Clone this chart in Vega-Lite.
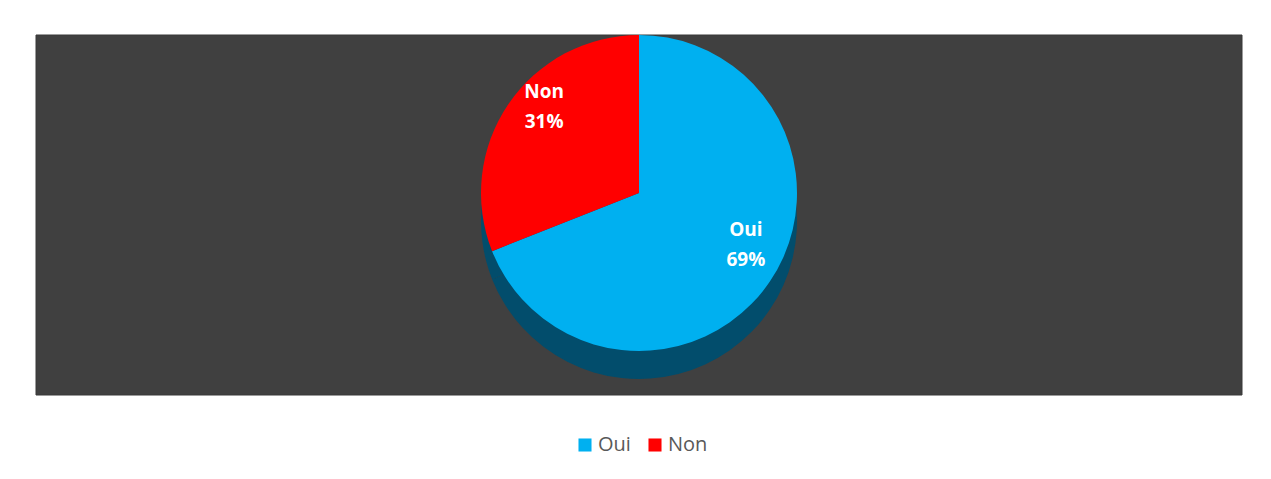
{
  "$schema": "https://vega.github.io/schema/vega-lite/v6.json",
  "width": 1206,
  "height": 360,
  "autosize": {"type": "none"},
  "padding": {"left": 36, "top": 35, "right": 29, "bottom": 84},
  "background": "#ffffff",
  "config": {
    "view": {"stroke": null},
    "font": "Open Sans"
  },
  "data": {
    "values": [
      {"categorie": "Oui", "part": 0.69},
      {"categorie": "Non", "part": 0.31}
    ]
  },
  "layer": [
    {
      "data": {"values": [{"fond": "zone"}]},
      "mark": {"type": "rect", "color": "#404040", "stroke": "#383838", "strokeWidth": 1},
      "encoding": {}
    },
    {
      "mark": {"type": "arc", "outerRadius": 158, "yOffset": 6, "color": "#024d6c"},
      "encoding": {
        "theta": {"field": "part", "type": "quantitative", "stack": true},
        "order": {"field": "categorie", "sort": "descending"}
      }
    },
    {
      "mark": {"type": "arc", "outerRadius": 158, "yOffset": -22},
      "encoding": {
        "theta": {"field": "part", "type": "quantitative", "stack": true},
        "order": {"field": "categorie", "sort": "descending"},
        "color": {
          "field": "categorie",
          "type": "nominal",
          "scale": {"domain": ["Oui", "Non"], "range": ["#00b0f0", "#ff0000"]},
          "legend": {
            "title": null,
            "orient": "none",
            "direction": "horizontal",
            "legendX": 539,
            "legendY": 400,
            "symbolType": "square",
            "symbolSize": 170,
            "symbolStrokeWidth": 0,
            "labelFontSize": 20,
            "labelColor": "#595959",
            "labelFont": "Open Sans",
            "columnPadding": 14,
            "labelOffset": 3
          }
        }
      }
    },
    {
      "mark": {"type": "text", "radius": 122, "yOffset": -54, "xOffset": 6, "fontSize": 19, "fontWeight": "bold", "color": "#ffffff", "font": "Open Sans"},
      "encoding": {
        "theta": {"field": "part", "type": "quantitative", "stack": true},
        "order": {"field": "categorie", "sort": "descending"},
        "text": {"field": "categorie", "type": "nominal"}
      }
    },
    {
      "mark": {"type": "text", "radius": 122, "yOffset": -24, "xOffset": 6, "fontSize": 19, "fontWeight": "bold", "color": "#ffffff", "font": "Open Sans"},
      "encoding": {
        "theta": {"field": "part", "type": "quantitative", "stack": true},
        "order": {"field": "categorie", "sort": "descending"},
        "text": {"field": "part", "type": "quantitative", "format": ".0%"}
      }
    }
  ]
}
